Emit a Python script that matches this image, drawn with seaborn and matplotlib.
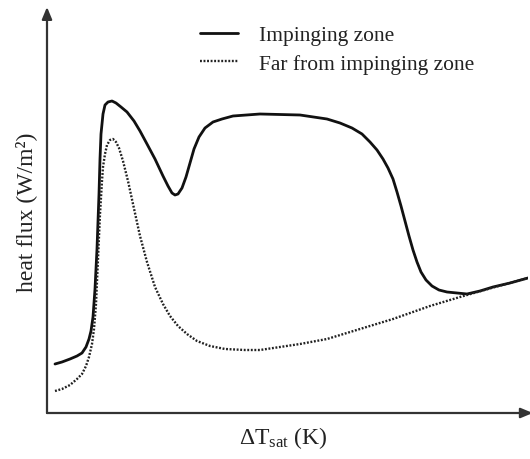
import matplotlib
matplotlib.use("Agg")
import matplotlib.pyplot as plt
import seaborn as sns
import pandas as pd

# Values (arbitrary units: x = wall superheat, y = heat flux)
imp_x = [8, 15, 23, 30, 35, 39, 42, 44, 46, 48, 50, 52, 53, 54, 56, 58, 61, 65, 69, 74,
         80, 87, 93, 100, 108, 116, 121, 125, 128, 131, 135, 139, 143, 147, 152, 158, 166, 175,
         186, 213, 253, 280, 293, 305, 315, 323, 330, 336, 341, 346, 350, 354, 358, 362,
         366, 370, 374, 379, 385, 392, 400, 410, 420, 433, 446, 463, 481]
imp_y = [49, 51, 54, 57, 60, 66, 74, 82, 96, 124, 164, 219, 254, 279, 299, 308, 311, 312, 310, 306,
         301, 292, 282, 269, 254, 237, 227, 220, 218, 219, 225, 236, 250, 264, 276, 285, 291, 294,
         297, 299, 298, 294, 290, 285, 279, 271, 263, 254, 245, 234, 221, 207, 192, 177,
         163, 151, 141, 133, 127, 123, 121, 120, 119, 122, 126, 130, 135]

far_x = [8, 15, 23, 30, 35, 39, 42, 45, 47, 49, 51, 53, 55, 56, 58, 60, 63, 66, 69, 72,
         76, 81, 86, 93, 100, 108, 116, 123, 131, 140, 150, 163, 178, 198, 213, 253, 280,
         313, 346, 383, 413, 448, 481]
far_y = [22, 24, 28, 34, 39, 47, 56, 69, 84, 109, 154, 199, 232, 246, 259, 268, 273, 274, 271, 265,
         252, 232, 209, 177, 151, 126, 109, 97, 87, 79, 72, 67, 64, 63, 63, 69, 74,
         84, 94, 107, 116, 126, 135]

labels = ["Impinging zone", "Far from impinging zone"]

sns.set_theme(style="white")
plt.rcParams["font.family"] = ["Liberation Serif", "DejaVu Serif"]
plt.rcParams["mathtext.fontset"] = "custom"
plt.rcParams["mathtext.rm"] = "Liberation Serif"
plt.rcParams["mathtext.it"] = "Liberation Serif:italic"

fig = plt.figure(figsize=(5.3, 4.6), dpi=100)
ax = fig.add_axes([47 / 530, 1 - 414 / 460, 481 / 530, 406 / 460])

df1 = pd.DataFrame({"x": imp_x, "y": imp_y})
df2 = pd.DataFrame({"x": far_x, "y": far_y})
sns.lineplot(data=df1, x="x", y="y", ax=ax, sort=False, color="#111111", lw=2.0,
             label=labels[0])
sns.lineplot(data=df2, x="x", y="y", ax=ax, sort=False, color="#222222", lw=1.7,
             linestyle=(0, (0.8, 0.7)), label=labels[1])
for ln in ax.lines:
    ln.set_solid_joinstyle("round")
    ln.set_dash_joinstyle("round")

ax.set_xlim(0, 481)
ax.set_ylim(0, 406)
ax.set_xticks([])
ax.set_yticks([])
for s in ax.spines.values():
    s.set_visible(False)

# axes with arrows
ax.annotate("", xy=(0, 1.0), xytext=(0, 0), xycoords="axes fraction",
            arrowprops=dict(arrowstyle="-|>,head_length=0.6,head_width=0.25", color="#333333", lw=1.6,
                            shrinkA=0, shrinkB=0), annotation_clip=False)
ax.annotate("", xy=(1.01, 0), xytext=(0, 0), xycoords="axes fraction",
            arrowprops=dict(arrowstyle="-|>,head_length=0.6,head_width=0.25", color="#333333", lw=1.6,
                            shrinkA=0, shrinkB=0), annotation_clip=False)

ax.set_xlabel("")
ax.set_ylabel("")
fig.text(283 / 530, 1 - 438 / 460, r"$\Delta\mathrm{T}_{\mathrm{sat}}$ (K)", fontsize=17,
         ha="center", va="center", color="#222222")
fig.text(26 / 530, 1 - 212 / 460, "heat flux (W/m²)", fontsize=17, rotation=90,
         ha="center", va="center", color="#222222")

leg = ax.legend(loc="upper left", bbox_to_anchor=(200 / 530, 1 - 26 / 460),
                bbox_transform=fig.transFigure, frameon=False, fontsize=15.5,
                borderpad=0, borderaxespad=0, handlelength=1.75, handletextpad=1.0,
                labelspacing=0.4)
for t in leg.get_texts():
    t.set_color("#222222")

fig.savefig("out.png", dpi=100)
